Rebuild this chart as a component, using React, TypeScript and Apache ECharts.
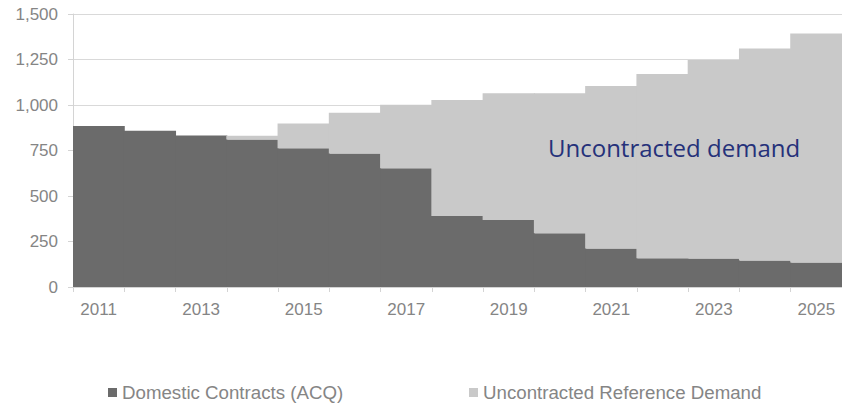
import React, { useEffect, useRef } from "react";
import * as echarts from "echarts";

const years = ["2011", "2012", "2013", "2014", "2015", "2016", "2017", "2018", "2019", "2020", "2021", "2022", "2023", "2024", "2025"];
const domesticContracts = [885, 859, 833, 811, 762, 734, 652, 390, 368, 295, 212, 158, 156, 145, 134];
const uncontractedDemand = [0, 0, 0, 20, 137, 224, 350, 637, 696, 769, 892, 1012, 1091, 1166, 1259];
const seriesNames = ["Domestic Contracts (ACQ)", "Uncontracted Reference Demand"];
const annotation = "Uncontracted demand";

const DARK = "#6b6b6b";
const LIGHT = "#c9c9c9";
const TEXT = "#858585";
const FONT = "'Liberation Sans', Arial, sans-serif";

export default function App() {
  const ref = useRef<HTMLDivElement>(null);
  useEffect(() => {
    if (!ref.current) return;
    const chart = echarts.init(ref.current, null, { renderer: "svg" });
    const legendCommon = {
      top: 383,
      icon: "rect",
      itemWidth: 9,
      itemHeight: 9,
      itemGap: 5,
      padding: 0,
      textStyle: { color: TEXT, fontSize: 18.7, fontFamily: FONT, padding: [0, 0, 0, 0] },
    };
    chart.setOption({
      animation: false,
      backgroundColor: "#ffffff",
      grid: { left: 73, right: 0, top: 14, bottom: 119, containLabel: false },
      legend: [
        { ...legendCommon, data: [seriesNames[0]], left: 108 },
        { ...legendCommon, data: [seriesNames[1]], left: 469 },
      ],
      xAxis: {
        type: "category",
        data: years,
        boundaryGap: true,
        axisLine: { show: true, lineStyle: { color: "#d4d4d4", width: 1 } },
        axisTick: { show: true, interval: 0, length: 5, lineStyle: { color: "#d4d4d4" } },
        axisLabel: { interval: 1, color: TEXT, fontSize: 17, fontFamily: FONT, margin: 14 },
        splitLine: { show: false },
      },
      yAxis: {
        type: "value",
        min: 0,
        max: 1500,
        interval: 250,
        axisLine: { show: true, lineStyle: { color: "#d4d4d4", width: 1 } },
        axisTick: { show: true, length: 5, lineStyle: { color: "#d4d4d4" } },
        axisLabel: {
          color: TEXT,
          fontSize: 17,
          fontFamily: FONT,
          margin: 15,
          padding: [6, 0, 0, 0],
          formatter: (v: number) => v.toLocaleString("en-US"),
        },
        splitLine: { show: true, lineStyle: { color: "#d9d9d9", width: 1 } },
      },
      series: [
        {
          name: seriesNames[0],
          type: "bar",
          stack: "total",
          data: domesticContracts,
          barWidth: "102%",
          itemStyle: { color: DARK, borderWidth: 0 },
        },
        {
          name: seriesNames[1],
          type: "bar",
          stack: "total",
          data: uncontractedDemand,
          barWidth: "102%",
          itemStyle: { color: LIGHT, borderWidth: 0 },
        },
      ],
      graphic: [
        {
          type: "text",
          x: 548,
          y: 135,
          z: 100,
          zlevel: 1,
          style: {
            text: annotation,
            fill: "#25317a",
            fontSize: 24,
            fontFamily: "'Open Sans', sans-serif",
          },
        },
      ],
    });
    return () => chart.dispose();
  }, []);
  return (
    <div
      ref={ref}
      style={{ position: "fixed", left: 0, top: 0, width: 842, height: 406, background: "#fff" }}
    />
  );
}
